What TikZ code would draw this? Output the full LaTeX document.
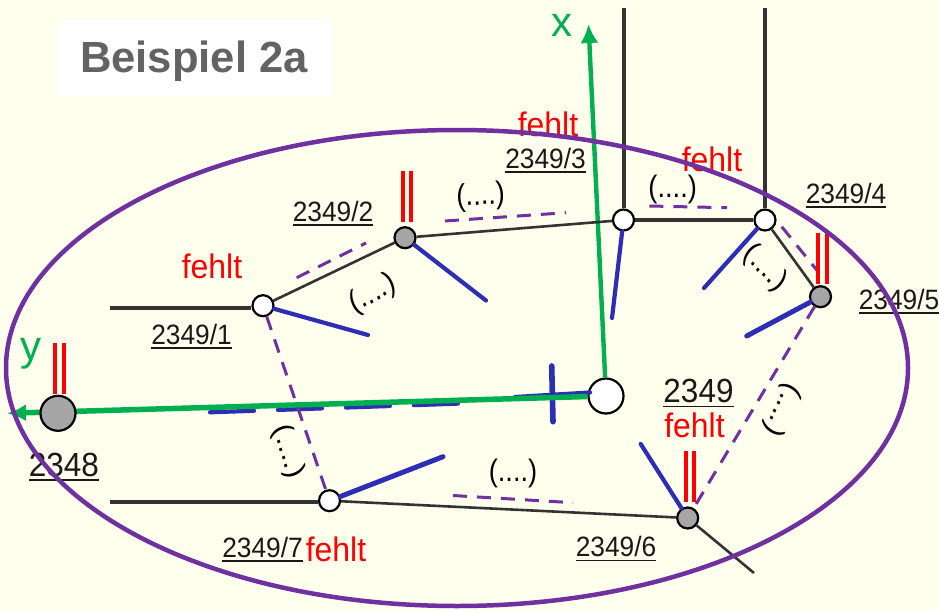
\documentclass[tikz,border=0pt]{standalone}
\usepackage{fontspec}
\setmainfont{Liberation Sans}
\usetikzlibrary{arrows.meta}
\definecolor{bgc}{HTML}{FFFFEE}
\definecolor{boxc}{HTML}{FFFFFF}
\definecolor{titlec}{HTML}{636363}
\definecolor{darkl}{HTML}{333333}
\definecolor{bluel}{HTML}{2E2EB4}
\definecolor{greenl}{HTML}{00B050}
\definecolor{purpl}{HTML}{7030A0}
\definecolor{grayn}{HTML}{A6A6A6}
\newcommand\ulab[1]{\setbox0\hbox{#1}\rlap{\rule[-4.6pt]{\wd0}{1.5pt}}\box0}
\tikzset{
  openp/.style={circle,draw=black,line width=2.2pt,fill=white,inner sep=0pt,minimum size=21pt},
  grayp/.style={openp,fill=grayn},
  bigopen/.style={openp,minimum size=35pt},
  biggray/.style={grayp,minimum size=35pt},
  heavy/.style={draw=darkl,line width=4pt},
  thinl/.style={draw=darkl,line width=2.6pt},
  bluet/.style={draw=bluel,line width=4.2pt,line cap=round},
  blueh/.style={bluet,line width=5pt},
  bluex/.style={bluet,line width=5.6pt},
  purpd/.style={draw=purpl,line width=3pt,dash pattern=on 14pt off 10pt},
  redl/.style={draw=red,line width=4pt},
  numl/.style={inner sep=0pt,anchor=base,font=\fontsize{28}{28}\selectfont,xscale=.94,transform shape,text=black!90},
  bignum/.style={numl,font=\fontsize{33.5}{33.5}\selectfont},
  fehl/.style={inner sep=0pt,anchor=base,font=\fontsize{34}{34}\selectfont,xscale=.94,transform shape,text=red},
  dots/.style={inner sep=0pt,font=\fontsize{31}{31}\selectfont,xscale=.88,transform shape,text=black},
  axl/.style={inner sep=0pt,anchor=base,font=\fontsize{42}{42}\selectfont,text=greenl},
}
\begin{document}
\begin{tikzpicture}[x=1pt,y=-1pt]
\useasboundingbox (0,0) rectangle (939,610);
\fill[bgc] (0,0) rectangle (939,610);
\node[fill=boxc,inner sep=0pt,minimum width=275pt,minimum height=76pt] (tb) at (195.5,58) {};
\node[inner sep=0pt,anchor=base,text=titlec,font=\bfseries\fontsize{43.6}{43.6}\selectfont] (title) at (194,73) {Beispiel 2a};

% named points
\node[bigopen] (c) at (606,396) {};
\coordinate (xt) at (588.5,24);
\coordinate (yt) at (7,413.3);
\coordinate (bl) at (210,412.3);
\coordinate (bm) at (461,403.5);
\coordinate (bs) at (515,397);
\coordinate (br) at (590,392.5);
\coordinate (ca) at (551.7,366);
\coordinate (cb) at (553,421.7);
\coordinate (l1) at (110,308);
\coordinate (l7) at (110,502);
\coordinate (t3) at (623.5,8);
\coordinate (t4) at (765,8);
\coordinate (e6) at (754,573);

% axes lie under the grey point 2348
\draw[bluet,dash pattern=on 44pt off 24pt] (bl) -- (bm);
\draw[bluet] (bs) -- (br);
\draw[bluex] (ca) -- (cb);
\draw[draw=greenl,line width=5.5pt,-{Latex[length=19pt,width=17pt]}] (c) -- (yt);
\draw[draw=greenl,line width=4.4pt,-{Latex[length=19pt,width=18pt]}] (c) -- (xt);

\node[biggray] (n48) at (58,413.3) {};
\node[openp] (n1) at (263,305.7) {};
\node[grayp] (n2) at (405,237.7) {};
\node[openp] (n3) at (623.5,220) {};
\node[openp] (n4) at (765,220) {};
\node[grayp] (n5) at (820.5,296.7) {};
\node[grayp] (n6) at (687.7,518) {};
\node[openp] (n7) at (329.5,500.7) {};

% dark members
\draw[heavy] (l1) -- (n1.west |- l1);
\draw[heavy] (l7) -- (n7.west |- l7);
\draw[heavy] (t3) -- (n3);
\draw[heavy] (t4) -- (n4);
\draw[heavy] (n3) -- (n4);
\draw[thinl] (n1) -- (n2);
\draw[thinl] (n2) -- (n3);
\draw[thinl] (n4) -- (n5);
\draw[thinl] (n7) -- (n6);
\draw[thinl] (n6) -- (e6);

% blue stubs
\coordinate (b1) at (368,335);
\coordinate (b2) at (486,300.5);
\coordinate (b3) at (612,318);
\coordinate (b4) at (704,288);
\coordinate (b5) at (746.7,336);
\coordinate (b6) at (640.7,444);
\coordinate (b7) at (443,456.7);
\foreach \a/\b in {n1/b1,n2/b2,n3/b3,n4/b4,n6/b6}{\draw[bluet] (\a) -- (\b);}
\draw[blueh] (n5) -- (b5);
\draw[blueh] (n7) -- (b7);

% dashed purple
\coordinate (d1a) at (296.7,277.7); \coordinate (d1b) at (366,243);
\coordinate (d2a) at (445,221);     \coordinate (d2b) at (566,212.7);
\coordinate (d3a) at (649.3,206);   \coordinate (d3b) at (727,207.7);
\coordinate (d4a) at (781.7,226.7); \coordinate (d4b) at (816.7,270);
\coordinate (d5a) at (453,495.5);   \coordinate (d5b) at (573,502.7);
\draw[purpd] (n1) -- (n7);
\draw[purpd] (n5) -- (n6);
\draw[purpd] (d1a) -- (d1b);
\draw[purpd] (d2a) -- (d2b);
\draw[purpd] (d3a) -- (d3b);
\draw[purpd] (d4a) -- (d4b);
\draw[purpd] (d5a) -- (d5b);

% red double bars
\foreach \x/\t in {55.3/343,64/343,403/171,411.2/171,818/233,827/233,686/451,694.4/451}{
  \draw[redl] (\x,\t) -- (\x,\t+51);
}

% labels
\node[numl] (t1) at (191.5,344.3) {\ulab{2349/1}};
\node[numl] (t2) at (333,221) {\ulab{2349/2}};
\node[numl] (t3x) at (545.5,168.3) {\ulab{2349/3}};
\node[numl] (t4x) at (846,203) {\ulab{2349/4}};
\node[numl] (t5) at (899,309) {\ulab{2349/5}};
\node[numl] (t6) at (616,556.7) {\ulab{2349/6}};
\node[numl] (t7) at (262.5,557) {\ulab{2349/7}};
\node[bignum] (t48) at (64,476) {\ulab{2348}};
\node[bignum] (tc) at (698.5,402.7) {\ulab{2349}};
\node[fehl] (f1) at (212,278) {fehlt};
\node[fehl] (f2) at (548,136) {fehlt};
\node[fehl] (f3) at (712,171.7) {fehlt};
\node[fehl] (f4) at (336,561.7) {fehlt};
\node[fehl] (f5) at (694.5,437.7) {fehlt};
\node[axl] (xl) at (561.5,37) {x};
\node[axl] (yl) at (31,360) {y};
\node[dots,rotate=27] (p1) at (373,294) {(....)};
\node[dots,rotate=3] (p2) at (480.7,196.7) {(....)};
\node[dots] (p3) at (672.7,189) {(....)};
\node[dots,rotate=-42] (p4) at (765,268) {(....)};
\node[dots] (p5) at (513,473) {(....)};
\node[dots,rotate=-118] (p6) at (782,410) {(....)};
\node[dots,rotate=-70] (p7) at (288,451.7) {(....)};

\draw[draw=purpl,line width=4.5pt] (457,368) ellipse [x radius=451,y radius=238];
\end{tikzpicture}
\end{document}
